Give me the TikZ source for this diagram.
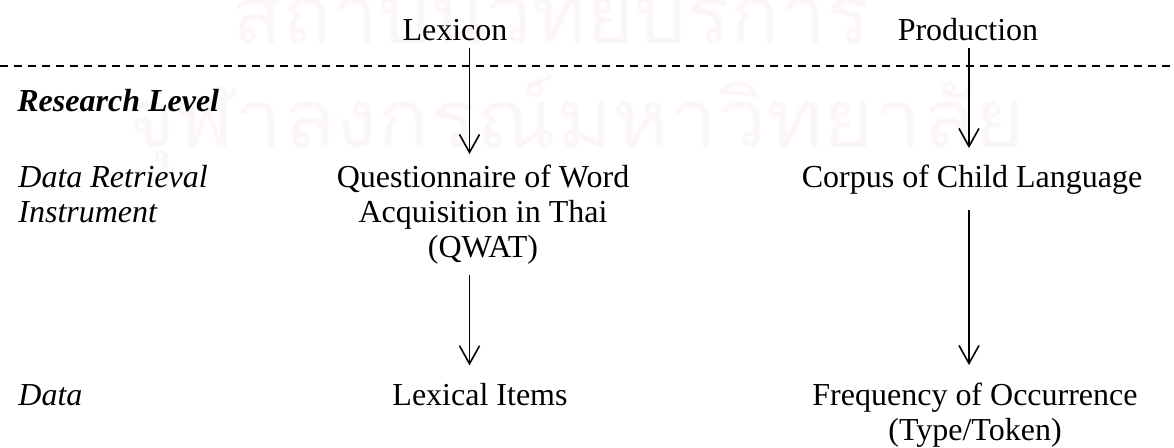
\documentclass[tikz,border=0pt]{standalone}
\usepackage{fontspec}
\setmainfont{Liberation Serif}
\newfontfamily\thaifont[Script=Thai]{Loma}
\usetikzlibrary{arrows.meta}
\definecolor{wmark}{RGB}{252,246,248}
\tikzset{
  x=0.5pt, y=-0.5pt,
  lbl/.style={inner sep=0pt, font=\fontsize{16pt}{17.5pt}\selectfont},
  rowlbl/.style={lbl, anchor=base west, align=left, font=\fontsize{16pt}{17.5pt}\selectfont\itshape},
  item/.style={lbl, anchor=base, align=center},
  arr/.style={line width=0.8pt, -{Straight Barb[length=9pt,width=10pt,line width=0.8pt]}},
  sep/.style={line width=0.8pt, dash pattern=on 4pt off 3pt},
  wm/.style={inner sep=0pt, anchor=base west, text=wmark, font=\thaifont\fontsize{41pt}{41pt}\selectfont}
}
\begin{document}
\begin{tikzpicture}
\useasboundingbox (0,0) rectangle (1174,447);
% background watermark
\node[wm] (wm1) at (232,43) {สถาบันวิทยบริการ};
\node[wm, xscale=1.05] (wm2) at (125,147) {จุฬาลงกรณ์มหาวิทยาลัย};

% column heads
\node[item] (lex) at (455,40) {Lexicon};
\node[item] (prod) at (968,40) {Production};
\draw[sep] (0,66) -- (1174,66);

% row labels (multi-line nodes sit on the baseline of their last line)
\node[rowlbl, font=\fontsize{16pt}{17.5pt}\selectfont\bfseries\itshape] (rlev) at (17,111) {Research Level};
\node[rowlbl] (instr) at (18,222) {Data Retrieval\\Instrument};
\node[rowlbl] (data) at (18,405) {Data};

% columns
\coordinate (colL) at (469.5,0);
\coordinate (colR) at (969,0);
\node[item] (qwat) at (483,257) {Questionnaire of Word\\Acquisition in Thai\\(QWAT)};
\node[item] (corpus) at (972,187) {Corpus of Child Language};
\node[item] (lexi) at (480,405) {Lexical Items};
\node[item] (freq) at (975,440) {Frequency of Occurrence\\(Type/Token)};

% connectors
\draw[arr] ([yshift=-3.5pt]lex.south -| colL) -- ([yshift=5pt]qwat.north -| colL);
\draw[arr] ([yshift=-3.5pt]prod.south -| colR) -- ([yshift=8pt]corpus.north -| colR);
\draw[arr] ([yshift=-5.5pt]qwat.south -| colL) -- ([yshift=8.5pt]lexi.north -| colL);
\draw[arr] ([yshift=-8pt]corpus.south -| colR) -- ([yshift=8.5pt]freq.north -| colR);
\end{tikzpicture}
\end{document}
